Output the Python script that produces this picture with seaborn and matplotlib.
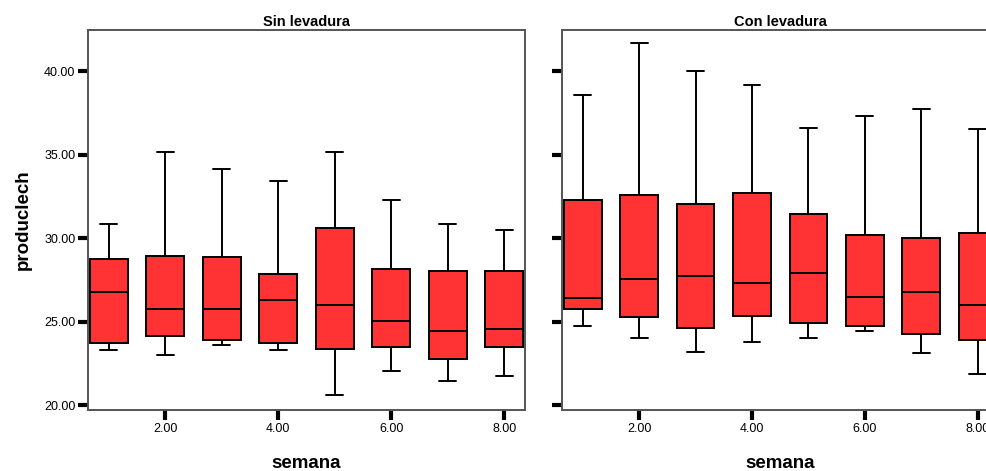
import matplotlib
matplotlib.use("Agg")
import matplotlib.pyplot as plt
import seaborn as sns
import pandas as pd
import numpy as np
from matplotlib.ticker import FormatStrFormatter

# datos (mín, Q1, mediana, Q3, máx por semana)
semanas = [1, 2, 3, 4, 5, 6, 7, 8]

sin_min = [23.3, 22.98, 23.6, 23.3, 20.6, 22.06, 21.44, 21.74]
sin_q1 = [23.7, 24.14, 23.9, 23.7, 23.38, 23.5, 22.76, 23.5]
sin_med = [26.8, 25.78, 25.78, 26.3, 25.98, 25.04, 24.44, 24.54]
sin_q3 = [28.76, 28.96, 28.86, 27.84, 30.62, 28.16, 28.06, 28.06]
sin_max = [30.84, 35.16, 34.14, 33.42, 35.16, 32.28, 30.84, 30.5]

con_min = [24.76, 24.02, 23.2, 23.8, 24.02, 24.42, 23.1, 21.86]
con_q1 = [25.78, 25.26, 24.64, 25.36, 24.94, 24.74, 24.24, 23.92]
con_med = [26.4, 27.54, 27.74, 27.32, 27.94, 26.5, 26.8, 25.98]
con_q3 = [32.28, 32.62, 32.08, 32.7, 31.46, 30.2, 30.0, 30.32]
con_max = [38.58, 41.68, 40.04, 39.2, 36.62, 37.34, 37.76, 36.52]

paneles = ["Sin levadura", "Con levadura"]


def tabla(mins, q1s, meds, q3s, maxs):
    filas = []
    for i, s in enumerate(semanas):
        for v in (mins[i], q1s[i], meds[i], q3s[i], maxs[i]):
            filas.append({"semana": s, "produclech": v})
    return pd.DataFrame(filas)


datos = [tabla(sin_min, sin_q1, sin_med, sin_q3, sin_max),
         tabla(con_min, con_q1, con_med, con_q3, con_max)]

sns.set_style("white")
plt.rcParams["font.family"] = ["Liberation Sans", "DejaVu Sans"]
plt.rcParams["text.color"] = "black"
plt.rcParams["axes.labelcolor"] = "black"
plt.rcParams["xtick.color"] = "black"
plt.rcParams["ytick.color"] = "black"

fig = plt.figure(figsize=(9.87, 4.71), dpi=100)
posiciones = [[0.0892, 0.1295, 0.4428, 0.8074],
              [0.5691, 0.1295, 0.4428, 0.8074]]

narrow = ["Liberation Sans Narrow", "Liberation Sans", "DejaVu Sans"]

for k, (df, titulo) in enumerate(zip(datos, paneles)):
    ax = fig.add_axes(posiciones[k])
    sns.boxplot(data=df, x="semana", y="produclech", native_scale=True,
                color="#FF3333", saturation=1, linecolor="black",
                linewidth=1.4, width=0.67, whis=(0, 100), fliersize=0, ax=ax)
    # bigotes con remates más cortos, como en el original
    for ln in ax.lines:
        xd = np.asarray(ln.get_xdata(), dtype=float)
        yd = np.asarray(ln.get_ydata(), dtype=float)
        if len(xd) == 2 and yd[0] == yd[1] and abs(xd[1] - xd[0]) < 0.6:
            c = xd.mean()
            ln.set_xdata([c - 0.15, c + 0.15])
    ax.set_xlim(0.63, 8.37)
    ax.set_ylim(19.7, 42.5)
    ax.set_xticks([2, 4, 6, 8])
    ax.set_yticks([20, 25, 30, 35, 40])
    ax.xaxis.set_major_formatter(FormatStrFormatter("%.2f"))
    ax.yaxis.set_major_formatter(FormatStrFormatter("%.2f"))
    ax.tick_params(axis="both", direction="out", length=7, width=3,
                   color="black", labelsize=9, pad=2,
                   bottom=True, left=True)
    for lab in ax.get_xticklabels() + ax.get_yticklabels():
        lab.set_family(narrow)
    if k == 1:
        ax.tick_params(axis="y", labelleft=False)
        ax.set_ylabel("")
    else:
        ax.set_ylabel("produclech", fontsize=13.5, fontweight="bold", labelpad=9)
    ax.set_xlabel("semana", fontsize=13.5, fontweight="bold", labelpad=15)
    ax.set_title(titulo, fontsize=10.5, fontweight="bold", pad=3)
    for sp in ax.spines.values():
        sp.set_color("#555555")
        sp.set_linewidth(1.4)
    ax.grid(False)

fig.savefig("out.png", dpi=100)
